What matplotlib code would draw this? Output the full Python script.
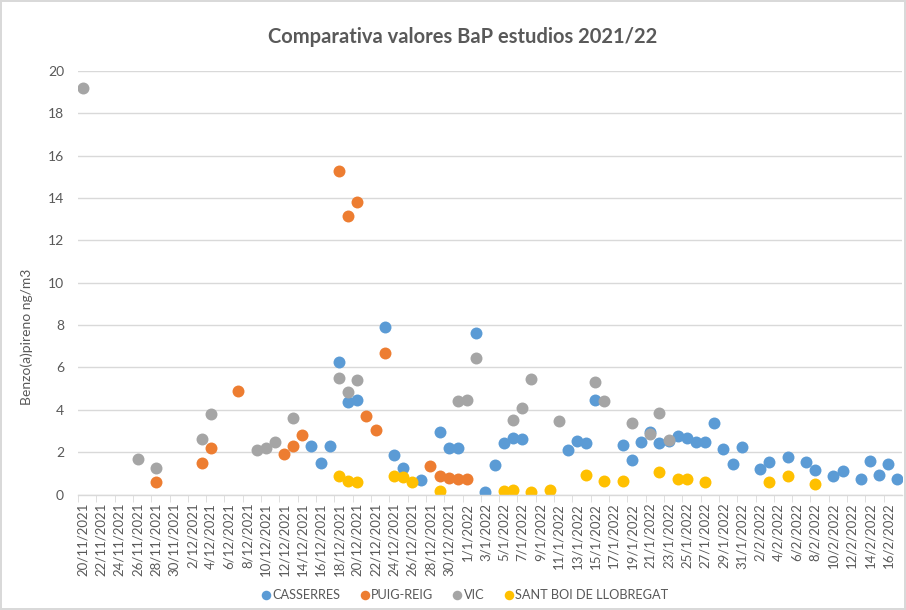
import matplotlib.pyplot as plt
import matplotlib.dates as mdates
import pandas as pd

# fechas (dd/mm/aaaa) y valores de BaP por estacion
casserres_fechas = ["15/12/2021", "16/12/2021", "17/12/2021", "18/12/2021", "19/12/2021", "20/12/2021",
                    "23/12/2021", "24/12/2021", "25/12/2021", "27/12/2021", "29/12/2021", "30/12/2021",
                    "31/12/2021", "2/1/2022", "3/1/2022", "4/1/2022", "5/1/2022", "6/1/2022", "7/1/2022",
                    "12/1/2022", "13/1/2022", "14/1/2022", "15/1/2022", "18/1/2022", "19/1/2022",
                    "20/1/2022", "21/1/2022", "22/1/2022", "23/1/2022", "24/1/2022", "25/1/2022",
                    "26/1/2022", "27/1/2022", "28/1/2022", "29/1/2022", "30/1/2022", "31/1/2022",
                    "2/2/2022", "3/2/2022", "5/2/2022", "7/2/2022", "8/2/2022", "10/2/2022", "11/2/2022",
                    "13/2/2022", "14/2/2022", "15/2/2022", "16/2/2022", "17/2/2022"]
casserres_valores = [2.31, 1.49, 2.28, 6.28, 4.37, 4.48, 7.89, 1.86, 1.24, 0.69, 2.96, 2.22, 2.22, 7.64,
                     0.12, 1.40, 2.41, 2.69, 2.61, 2.12, 2.52, 2.42, 4.46, 2.33, 1.65, 2.47, 2.96, 2.44,
                     2.54, 2.77, 2.65, 2.47, 2.46, 3.39, 2.17, 1.43, 2.24, 1.21, 1.54, 1.78, 1.54, 1.18,
                     0.88, 1.13, 0.72, 1.60, 0.94, 1.46, 0.72]

puig_fechas = ["28/11/2021", "3/12/2021", "4/12/2021", "7/12/2021", "12/12/2021", "13/12/2021",
               "14/12/2021", "18/12/2021", "19/12/2021", "20/12/2021", "21/12/2021", "22/12/2021",
               "23/12/2021", "28/12/2021", "29/12/2021", "30/12/2021", "31/12/2021", "1/1/2022"]
puig_valores = [0.59, 1.51, 2.20, 4.87, 1.90, 2.27, 2.80, 15.30, 13.14, 13.80, 3.69, 3.06, 6.69,
                1.35, 0.86, 0.77, 0.72, 0.72]

vic_fechas = ["20/11/2021", "26/11/2021", "28/11/2021", "3/12/2021", "4/12/2021", "9/12/2021",
              "10/12/2021", "11/12/2021", "13/12/2021", "18/12/2021", "19/12/2021", "20/12/2021",
              "31/12/2021", "1/1/2022", "2/1/2022", "6/1/2022", "7/1/2022", "8/1/2022", "11/1/2022",
              "15/1/2022", "16/1/2022", "19/1/2022", "21/1/2022", "22/1/2022", "23/1/2022"]
vic_valores = [19.2, 1.67, 1.27, 2.63, 3.80, 2.09, 2.22, 2.49, 3.63, 5.49, 4.84, 5.39, 4.40, 4.45,
               6.44, 3.50, 4.08, 5.44, 3.45, 5.30, 4.43, 3.39, 2.84, 3.83, 2.58]

santboi_fechas = ["18/12/2021", "19/12/2021", "20/12/2021", "24/12/2021", "25/12/2021", "26/12/2021",
                  "29/12/2021", "5/1/2022", "6/1/2022", "8/1/2022", "10/1/2022", "14/1/2022",
                  "16/1/2022", "18/1/2022", "22/1/2022", "24/1/2022", "25/1/2022", "27/1/2022",
                  "3/2/2022", "5/2/2022", "8/2/2022"]
santboi_valores = [0.89, 0.65, 0.58, 0.88, 0.81, 0.58, 0.17, 0.17, 0.23, 0.12, 0.20, 0.94, 0.64,
                   0.62, 1.08, 0.73, 0.72, 0.59, 0.59, 0.86, 0.48]

series = [
    ("CASSERRES", casserres_fechas, casserres_valores, "#5B9BD5"),
    ("PUIG-REIG", puig_fechas, puig_valores, "#ED7D31"),
    ("VIC", vic_fechas, vic_valores, "#A5A5A5"),
    ("SANT BOI DE LLOBREGAT", santboi_fechas, santboi_valores, "#FFC000"),
]

inicio = pd.Timestamp(2021, 11, 20)
fin = pd.Timestamp(2022, 2, 17)

plt.rcParams['font.family'] = ['Lato', 'DejaVu Sans']
gris = "#595959"

fig = plt.figure(figsize=(9.06, 6.10), dpi=100)
fig.patch.set_edgecolor("#D9D9D9")
fig.patch.set_linewidth(1.5)
ax = fig.add_axes([0.0861, 0.1893, 0.9095, 0.6943])

for nombre, fechas, valores, color in series:
    x = pd.to_datetime(fechas, format="%d/%m/%Y")
    ax.plot(x, valores, linestyle="none", marker="o", markersize=8.6,
            color=color, markeredgewidth=0, label=nombre)

ax.set_ylim(0, 20)
ax.set_yticks(range(0, 21, 2))
ax.set_xlim(mdates.date2num(inicio) - 0.5, mdates.date2num(fin) + 0.5)

etiquetas = pd.date_range(inicio, fin, freq="2D")
ax.set_xticks(mdates.date2num(etiquetas))
ax.set_xticklabels([f"{d.day}/{d.month}/{d.year}" for d in etiquetas], rotation=90)
ax.set_xticks(mdates.date2num(etiquetas) - 0.5, minor=True)
ax.tick_params(axis="x", which="major", length=0, pad=6, labelsize=9.5, labelcolor=gris)
ax.tick_params(axis="x", which="minor", length=5, color="#D9D9D9", direction="out")
ax.tick_params(axis="y", length=0, pad=10, labelsize=10, labelcolor=gris)

ax.grid(axis="y", color="#D9D9D9", linewidth=1)
ax.set_axisbelow(True)
for lado in ["top", "right", "left"]:
    ax.spines[lado].set_visible(False)
ax.spines["bottom"].set_color("#D9D9D9")
ax.spines["bottom"].set_linewidth(1)

ax.set_ylabel("Benzo(a)pireno ng/m3", fontsize=10, color=gris)
ax.yaxis.set_label_coords(-0.055, 0.372)
fig.suptitle("Comparativa valores BaP estudios 2021/22", fontsize=14.5, fontweight="bold",
             color=gris, x=0.511, y=0.955)

fig.legend(loc="center", bbox_to_anchor=(0.512, 0.024), ncol=4, frameon=False,
           fontsize=9.2, labelcolor=gris, handletextpad=0.0, columnspacing=1.4,
           handlelength=1.0, markerscale=0.8)

plt.savefig("out.png", dpi=100)
